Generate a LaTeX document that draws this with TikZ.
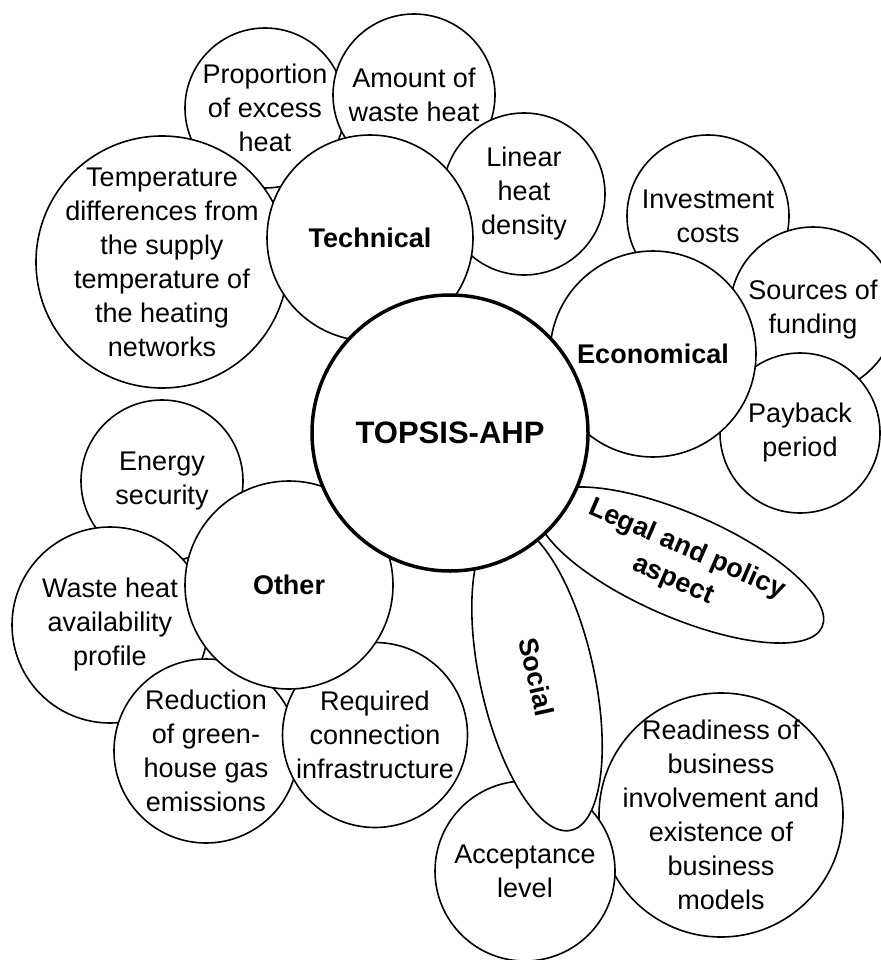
\documentclass[tikz,border=0pt]{standalone}
\usepackage{fontspec}
\setmainfont{Liberation Sans}
\usetikzlibrary{shapes.geometric}
\begin{document}
\begin{tikzpicture}[x=1pt,y=-1pt,
  bubble/.style={circle, draw=black, line width=1.6pt, fill=white, inner sep=-20pt,
    align=center, font=\fontsize{27}{34}\selectfont},
  group/.style={bubble, font=\fontsize{27}{34}\selectfont\bfseries},
  petal/.style={ellipse, draw=black, line width=1.6pt, fill=white, inner sep=0pt,
    align=center, font=\fontsize{27}{34}\selectfont\bfseries},
  hub/.style={circle, draw=black, line width=3.5pt, fill=white, inner sep=0pt,
    font=\fontsize{31}{37}\selectfont\bfseries}]
\useasboundingbox (0,0) rectangle (880,960);

% technical criteria
\node[bubble, minimum size=160pt] (prop) at (265,108) {Proportion\\of excess\\heat};
\node[bubble, minimum size=252pt] (temp) at (162,262) {Temperature\\differences from\\the supply\\temperature of\\the heating\\networks};
\node[bubble, minimum size=162pt] (amount) at (414,95) {Amount of\\waste heat};
\node[bubble, minimum size=162pt] (linear) at (524,194) {Linear\\heat\\density};
\node[group, minimum size=206pt] (tech) at (370,238) {Technical};

% economical criteria
\node[bubble, minimum size=162pt] (invest) at (708,216) {Investment\\costs};
\node[bubble, minimum size=166pt] (funds) at (813,310) {Sources of\\funding};
\node[bubble, minimum size=160pt] (payback) at (800,433) {Payback\\period};
\node[group, minimum size=206pt] (econ) at (653,354) {Economical};

% other criteria
\node[bubble, minimum size=162pt] (energy) at (162,481) {Energy\\security};
\node[bubble, minimum size=196pt] (profile) at (110,625) {Waste heat\\availability\\profile};
\node[bubble, minimum size=184pt] (ghg) at (206,751) {Reduction\\of green-\\house gas\\emissions};
\node[bubble, minimum size=185pt] (infra) at (375,735) {Required\\connection\\infrastructure};
\node[group, minimum size=208pt] (other) at (289,585) {Other};

% social and legal criteria
\node[bubble, minimum size=244pt] (business) at (721,815) {Readiness of\\business\\involvement and\\existence of\\business\\models};
\node[bubble, minimum size=180pt] (accept) at (525,871) {Acceptance\\level};
\node[petal, minimum width=314pt, minimum height=114pt, rotate=-77.5] (social) at (537,677) {Social};
\node[petal, minimum width=310pt, minimum height=104pt, rotate=-23.5] (legal) at (680,565) {Legal and policy\\aspect};

% method at the centre
\node[hub, minimum size=276pt] (topsis) at (450,433) {TOPSIS-AHP};
\end{tikzpicture}
\end{document}
